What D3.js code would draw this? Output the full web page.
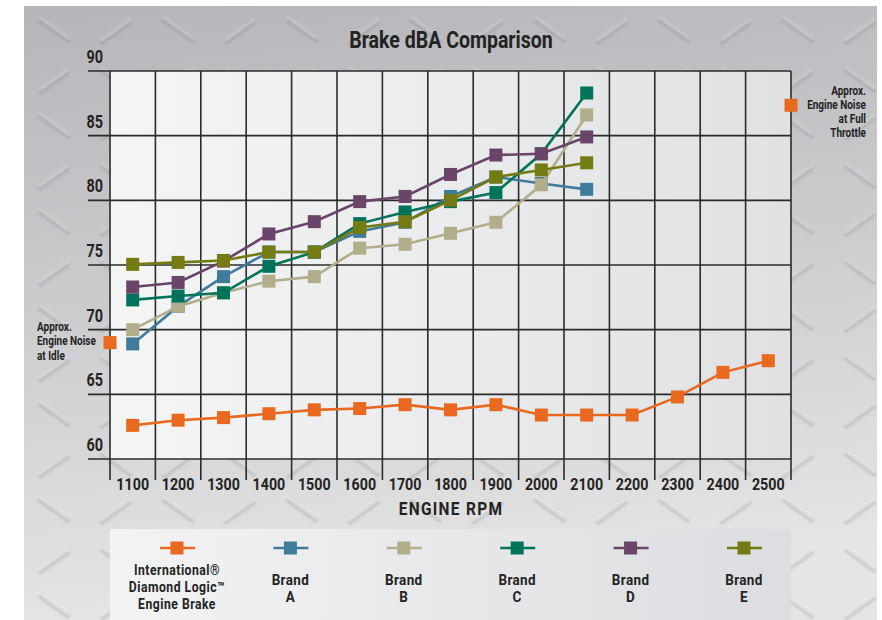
<!DOCTYPE html>
<html>
<head>
<meta charset="utf-8">
<script src="https://cdn.jsdelivr.net/npm/d3@7"></script>
<style>
  body { margin: 0; background: #fff; }
  text { font-family: Roboto, "Liberation Sans", sans-serif; font-weight: bold; fill: #232323; }
</style>
</head>
<body>
<div id="chart"></div>
<script>
// engine speeds (x axis categories)
var rpm = [1100, 1200, 1300, 1400, 1500, 1600, 1700, 1800, 1900, 2000, 2100, 2200, 2300, 2400, 2500];
var yTicks = [60, 65, 70, 75, 80, 85, 90];

// dBA readings
var international = [62.6, 63.0, 63.2, 63.5, 63.8, 63.9, 64.2, 63.8, 64.2, 63.4, 63.4, 63.4, 64.8, 66.7, 67.6];
var brandA = [68.9, 71.8, 74.1, 76.0, 76.0, 77.6, 78.3, 80.3, 81.8, 81.3, 80.85];
var brandB = [70.0, 71.8, 72.85, 73.75, 74.1, 76.3, 76.6, 77.45, 78.3, 81.2, 86.6];
var brandC = [72.3, 72.6, 72.85, 74.9, 76.0, 78.2, 79.1, 79.9, 80.6, 83.6, 88.3];
var brandD = [73.3, 73.65, 75.3, 77.4, 78.35, 79.9, 80.3, 82.0, 83.5, 83.6, 84.9];
var brandE = [75.05, 75.2, 75.35, 76.0, 76.0, 77.9, 78.35, 80.0, 81.8, 82.35, 82.9];

var idleNoise = 69.0;
var fullThrottleNoise = 87.35;

var seriesNames = ["International", "Brand A", "Brand B", "Brand C", "Brand D", "Brand E"];
var seriesColors = ["#e8691f", "#3f7b9b", "#b2ad8b", "#02735b", "#6a4469", "#737b12"];
var seriesValues = [international, brandA, brandB, brandC, brandD, brandE];
var legendLabels = [
  ["International\u00AE", "Diamond Logic\u2122", "Engine Brake"],
  ["Brand", "A"], ["Brand", "B"], ["Brand", "C"], ["Brand", "D"], ["Brand", "E"]
];

var W = 882, H = 620;
var svg = d3.select("#chart").append("svg")
    .attr("width", W)
    .attr("height", H);

// no condensed face installed, so squeeze text horizontally
function label(parent, x, y, lines, size, anchor, sx, lh, spacing) {
  var t = parent.append("text")
      .attr("transform", "translate(" + x + "," + y + ") scale(" + sx + ",1)")
      .attr("text-anchor", anchor)
      .style("font-size", size + "px");
  if (spacing) t.style("letter-spacing", spacing + "px");
  [].concat(lines).forEach(function(s, k) {
    t.append("tspan").attr("x", 0).attr("y", k * lh).text(s);
  });
  return t;
}

var defs = svg.append("defs");

var bgGrad = defs.append("linearGradient").attr("id", "bgGrad")
    .attr("x1", 0).attr("y1", 0).attr("x2", 0.15).attr("y2", 1);
bgGrad.append("stop").attr("offset", 0).attr("stop-color", "#b6b6ba");
bgGrad.append("stop").attr("offset", 0.45).attr("stop-color", "#cacacd");
bgGrad.append("stop").attr("offset", 1).attr("stop-color", "#e5e5e5");

var plotGrad = defs.append("linearGradient").attr("id", "plotGrad")
    .attr("x1", 0).attr("y1", 0).attr("x2", 1).attr("y2", 0);
plotGrad.append("stop").attr("offset", 0).attr("stop-color", "#f4f5f5");
plotGrad.append("stop").attr("offset", 1).attr("stop-color", "#e0e1e3");

var legGrad = defs.append("linearGradient").attr("id", "legGrad")
    .attr("x1", 0).attr("y1", 0).attr("x2", 1).attr("y2", 0);
legGrad.append("stop").attr("offset", 0).attr("stop-color", "#f2f3f3");
legGrad.append("stop").attr("offset", 1).attr("stop-color", "#dcdde0");

var blur = defs.append("filter").attr("id", "soft");
blur.append("feGaussianBlur").attr("stdDeviation", 1.2);

// diamond plate texture
var plate = defs.append("pattern").attr("id", "plate")
    .attr("patternUnits", "userSpaceOnUse")
    .attr("width", 124).attr("height", 96)
    .attr("x", 24).attr("y", 6);
var pg = plate.append("g").attr("filter", "url(#soft)");
var ridges = [[16, 12, 44, 32], [78, 34, 106, 14], [16, 84, 44, 64], [78, 62, 106, 82]];
ridges.forEach(function(r) {
  pg.append("line").attr("x1", r[0]).attr("y1", r[1] + 2.5).attr("x2", r[2]).attr("y2", r[3] + 2.5)
      .attr("stroke", "#6a6a74").attr("stroke-opacity", 0.22).attr("stroke-width", 4).attr("stroke-linecap", "round");
  pg.append("line").attr("x1", r[0]).attr("y1", r[1]).attr("x2", r[2]).attr("y2", r[3])
      .attr("stroke", "#ffffff").attr("stroke-opacity", 0.28).attr("stroke-width", 2.5).attr("stroke-linecap", "round");
});

svg.append("rect").attr("x", 24).attr("y", 6).attr("width", 853).attr("height", H - 6)
    .attr("fill", "url(#bgGrad)");
svg.append("rect").attr("x", 24).attr("y", 6).attr("width", 853).attr("height", H - 6)
    .attr("fill", "url(#plate)");

var x = d3.scaleBand()
    .domain(rpm)
    .range([110, 791]);

var y = d3.scaleLinear()
    .domain([60, 90])
    .range([459, 71]);

// plot background
svg.append("rect")
    .attr("x", x.range()[0]).attr("y", y(90))
    .attr("width", x.range()[1] - x.range()[0]).attr("height", y(60) - y(90))
    .attr("fill", "url(#plotGrad)");

// grid
var edges = rpm.map(function(r) { return x(r); }).concat([x.range()[1]]);
svg.append("g").selectAll("line").data(edges).enter().append("line")
    .attr("x1", function(d) { return d; }).attr("x2", function(d) { return d; })
    .attr("y1", y(90)).attr("y2", y(60) + 21)
    .attr("stroke", "#2b2b2b").attr("stroke-width", 1.6);

svg.append("g").selectAll("line").data(yTicks).enter().append("line")
    .attr("x1", x.range()[0] - 22).attr("x2", x.range()[1])
    .attr("y1", function(d) { return y(d); }).attr("y2", function(d) { return y(d); })
    .attr("stroke", "#2b2b2b").attr("stroke-width", 1.6);

var yLab = svg.append("g");
yTicks.forEach(function(d) {
  label(yLab, 103, y(d) - 8, String(d), 18, "end", 0.8, 0);
});

var xLab = svg.append("g");
rpm.forEach(function(d) {
  label(xLab, x(d) + x.bandwidth() / 2, 490, String(d), 17, "middle", 0.84, 0);
});

label(svg, 451, 515, "ENGINE RPM", 18, "middle", 0.86, 0, 1.5);
label(svg, 451, 48, "Brake dBA Comparison", 23, "middle", 0.85, 0);

// series
var line = d3.line()
    .x(function(d, i) { return x(rpm[i]) + x.bandwidth() / 2; })
    .y(function(d) { return y(d); });

var M = 13;
seriesValues.forEach(function(vals, s) {
  var g = svg.append("g");
  g.append("path")
      .datum(vals)
      .attr("d", line)
      .attr("fill", "none")
      .attr("stroke", seriesColors[s])
      .attr("stroke-width", 2.6);
  g.selectAll("rect").data(vals).enter().append("rect")
      .attr("x", function(d, i) { return x(rpm[i]) + x.bandwidth() / 2 - M / 2; })
      .attr("y", function(d) { return y(d) - M / 2; })
      .attr("width", M).attr("height", M)
      .attr("fill", seriesColors[s]);
});

// idle and full throttle markers
[[x.range()[0], idleNoise], [x.range()[1], fullThrottleNoise]].forEach(function(p) {
  svg.append("rect")
      .attr("x", p[0] - M / 2).attr("y", y(p[1]) - M / 2)
      .attr("width", M).attr("height", M)
      .attr("fill", seriesColors[0]);
});

label(svg, 37, 331, ["Approx.", "Engine Noise", "at Idle"], 12.5, "start", 0.8, 14.5);
label(svg, 866, 95, ["Approx.", "Engine Noise", "at Full", "Throttle"], 12.5, "end", 0.8, 14);

// legend
svg.append("rect")
    .attr("x", 110).attr("y", 529).attr("width", 681).attr("height", H - 529)
    .attr("fill", "url(#legGrad)");

var legX = d3.scalePoint()
    .domain(seriesNames)
    .range([177, 744]);

var leg = svg.append("g").selectAll("g").data(seriesNames).enter().append("g")
    .attr("transform", function(d) { return "translate(" + legX(d) + ",548)"; });

leg.append("line")
    .attr("x1", -17).attr("x2", 18)
    .attr("stroke", function(d, i) { return seriesColors[i]; })
    .attr("stroke-width", 2.6);
leg.append("rect")
    .attr("x", -M / 2).attr("y", -M / 2).attr("width", M).attr("height", M)
    .attr("fill", function(d, i) { return seriesColors[i]; });

leg.each(function(d, i) {
  if (i === 0) label(d3.select(this), 0, 27, legendLabels[i], 14.5, "middle", 0.84, 16.8, 0.6);
  else label(d3.select(this), 0, 37, legendLabels[i], 15, "middle", 0.9, 17, 0.4);
});
</script>
</body>
</html>
